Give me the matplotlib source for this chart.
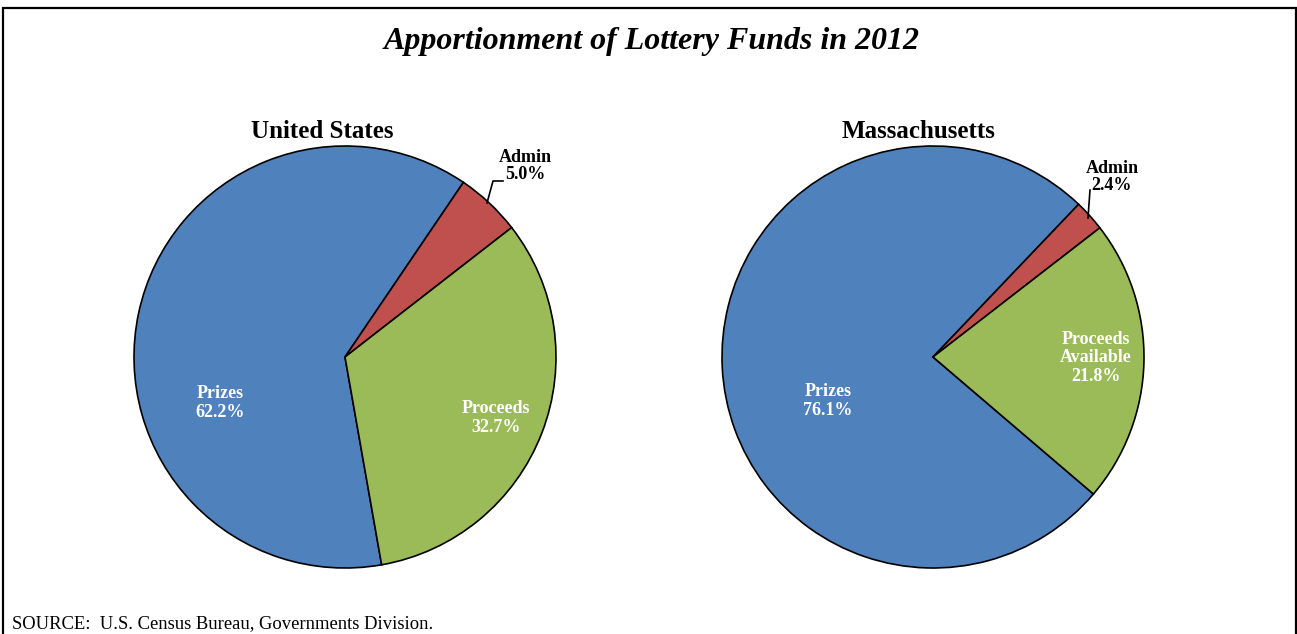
import matplotlib
matplotlib.use("Agg")
import matplotlib.pyplot as plt
from matplotlib.patches import Rectangle

plt.rcParams['font.family'] = ['Liberation Serif', 'DejaVu Serif']

# Reparto de fondos de loteria, 2012 (porcentajes)
categorias = ['Prizes', 'Admin', 'Proceeds']
us_valores = [62.2, 5.0, 32.7]
ma_valores = [76.1, 2.4, 21.8]
us_etiquetas = ['Prizes', 'Admin', 'Proceeds']
ma_etiquetas = ['Prizes', 'Admin', 'Proceeds\nAvailable']
colores = ['#4F81BD', '#C0504D', '#9BBB59']

W, H = 1297, 634
fig = plt.figure(figsize=(W / 100, H / 100), dpi=100)
ax = fig.add_axes([0, 0, 1, 1])
ax.set_xlim(0, W)
ax.set_ylim(0, H)
ax.set_aspect('equal')
ax.axis('off')


def torta(valores, etiquetas, centro, inicio, titulo, pos_titulo, pos_txt, admin_txt, guia):
    ax.pie(valores, colors=colores, center=centro, radius=211, startangle=inicio,
           counterclock=False, wedgeprops=dict(edgecolor='black', linewidth=1.2))
    ax.text(pos_titulo[0], pos_titulo[1], titulo, ha='center', va='center',
            fontsize=18, fontweight='bold')
    for i, (et, v) in enumerate(zip(etiquetas, valores)):
        texto = '%s\n%.1f%%' % (et, v)
        if i == 1:
            ax.text(admin_txt[0], admin_txt[1], texto, ha='center', va='center',
                    fontsize=13, fontweight='bold', color='black', linespacing=1.05)
        else:
            ax.text(pos_txt[i][0], pos_txt[i][1], texto, ha='center', va='center',
                    fontsize=13, fontweight='bold', color='white', linespacing=1.1)
    # linea guia de la etiqueta Admin
    ax.plot(guia[0], guia[1], color='black', lw=1.2)


torta(us_valores, us_etiquetas, (345, H - 357), -80, 'United States', (322, H - 131),
      {0: (220, H - 403), 2: (496, H - 418)}, (525, H - 166),
      ([503, 493, 487], [H - 181, H - 181, H - 203]))
torta(ma_valores, ma_etiquetas, (933, H - 357), -40.5, 'Massachusetts', (919, H - 131),
      {0: (828, H - 401), 2: (1096, H - 358)}, (1112, H - 177),
      ([1090, 1088], [H - 190, H - 218]))

ax.set_xlim(0, W)
ax.set_ylim(0, H)

ax.text(652, H - 42, 'Apportionment of Lottery Funds in 2012', ha='center', va='center',
        fontsize=23, fontweight='bold', fontstyle='italic')
ax.text(12, H - 624, 'SOURCE:  U.S. Census Bureau, Governments Division.', ha='left',
        va='center', fontsize=13.4)

# marco del grafico
fig.add_artist(Rectangle((2.5 / W, -0.05), 1293 / W, (H - 7.5) / H + 0.05,
                         transform=fig.transFigure, fill=False, edgecolor='black',
                         linewidth=1.6))

plt.savefig('out.png', dpi=100)
